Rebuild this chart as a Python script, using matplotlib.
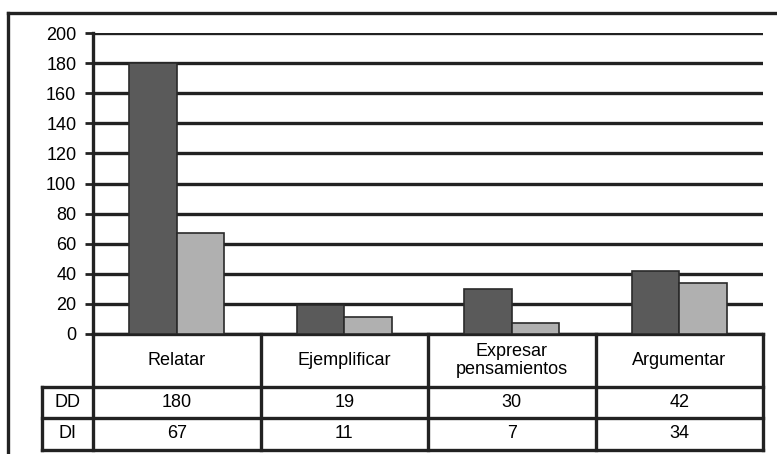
import matplotlib
matplotlib.use('Agg')
import matplotlib.pyplot as plt
from matplotlib.lines import Line2D
import numpy as np

categories = ['Relatar', 'Ejemplificar', 'Expresar\npensamientos', 'Argumentar']
series_names = ['DD', 'DI']
dd_values = [180, 19, 30, 42]
di_values = [67, 11, 7, 34]
y_ticks = [0, 20, 40, 60, 80, 100, 120, 140, 160, 180, 200]

W, H = 777, 454
fig = plt.figure(figsize=(W / 100, H / 100), dpi=100)
fig.patch.set_facecolor('white')

# main chart axes (pixel coords from reference)
left, right, top, bottom = 93, 763, 33, 334
ax = fig.add_axes([left / W, 1 - bottom / H, (right - left) / W, (bottom - top) / H])

x = np.arange(len(categories)) + 0.5
bw = 0.285
ax.bar(x - bw / 2, dd_values, bw, color='#5a5a5a', edgecolor='#2a2a2a', linewidth=1.2, zorder=3)
ax.bar(x + bw / 2, di_values, bw, color='#b0b0b0', edgecolor='#2a2a2a', linewidth=1.2, zorder=3)

ax.set_xlim(0, len(categories))
ax.set_ylim(0, 200)
ax.set_yticks(y_ticks)
ax.set_yticklabels([str(v) for v in y_ticks], fontsize=13, family='Liberation Sans')
ax.tick_params(axis='y', length=6, width=2, color='#222222', pad=6)
ax.set_xticks([])
ax.yaxis.grid(True, color='#222222', linewidth=2.4, zorder=1)
ax.set_axisbelow(True)
for side in ['top', 'right']:
    ax.spines[side].set_visible(False)
ax.spines['left'].set_linewidth(2.4)
ax.spines['left'].set_color('#222222')
ax.spines['bottom'].set_linewidth(2.4)
ax.spines['bottom'].set_color('#222222')

# data table below the chart
tbl_bottom = 450
tax = fig.add_axes([left / W, 1 - tbl_bottom / H, (right - left) / W, (tbl_bottom - bottom) / H])
tax.set_xlim(0, len(categories))
tax.set_ylim(tbl_bottom - bottom, 0)
tax.axis('off')
row_y = [0, 53, 84, 116]
lbl_x = -51 / ((right - left) / len(categories))
lw = 2.4
lc = '#222222'
for i in range(len(categories) + 1):
    tax.plot([i, i], [row_y[0], row_y[-1]], color=lc, lw=lw, clip_on=False, solid_capstyle='projecting')
tax.plot([lbl_x, lbl_x], [row_y[1], row_y[-1]], color=lc, lw=lw, clip_on=False, solid_capstyle='projecting')
for yy in row_y[1:]:
    tax.plot([lbl_x, len(categories)], [yy, yy], color=lc, lw=lw, clip_on=False, solid_capstyle='projecting')

txt = dict(fontsize=13, family='Liberation Sans', ha='center', va='center')
for i, c in enumerate(categories):
    tax.text(i + 0.5, (row_y[0] + row_y[1]) / 2, c, linespacing=1.15, **txt)
    tax.text(i + 0.5, (row_y[1] + row_y[2]) / 2, str(dd_values[i]), **txt)
    tax.text(i + 0.5, (row_y[2] + row_y[3]) / 2, str(di_values[i]), **txt)
for r, name in enumerate(series_names):
    tax.text(lbl_x / 2, (row_y[r + 1] + row_y[r + 2]) / 2, name, **txt)

# outer frame (top and left edges visible)
fig.add_artist(Line2D([8 / W, 8 / W], [0, 1 - 13 / H], color=lc, lw=2.4))
fig.add_artist(Line2D([8 / W, 1], [1 - 13 / H, 1 - 13 / H], color=lc, lw=2.4))

fig.savefig('out.png', dpi=100, facecolor='white')
